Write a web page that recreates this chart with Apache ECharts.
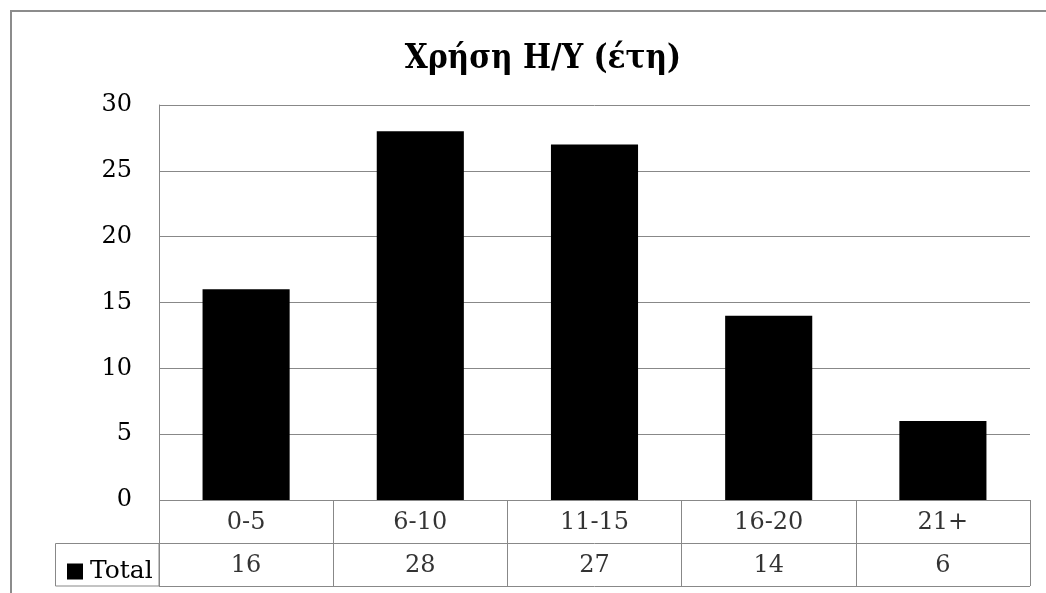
<!DOCTYPE html>
<html>
<head>
<meta charset="utf-8">
<script src="https://cdn.jsdelivr.net/npm/echarts@6/dist/echarts.min.js"></script>
<style>html,body{margin:0;padding:0;background:#fff;}#c{width:1046px;height:593px;}</style>
</head>
<body>
<div id="c"></div>
<script>
const titleText = 'Χρήση Η/Υ (έτη)';
const categories = ['0-5', '6-10', '11-15', '16-20', '21+'];
const seriesName = 'Total';
const values = [16, 28, 27, 14, 6];
const yTicks = [0, 5, 10, 15, 20, 25, 30];

const FONT = 'DejaVu Serif';
const FS = 24;
const GRID_COLOR = '#888888';
const chart = echarts.init(document.getElementById('c'), null, {renderer: 'canvas'});

const catRow = categories.map((c, i) => [i, 1.5, c]);
const valRow = values.map((v, i) => [i, 0.5, String(v)]);

chart.setOption({
  animation: false,
  backgroundColor: '#fff',
  title: {
    text: titleText,
    left: 538, top: 38, textAlign: 'center',
    textStyle: {fontFamily: 'DejaVu Serif Condensed, DejaVu Serif', fontWeight: 'bold', fontSize: 33, color: '#000'}
  },
  legend: {
    data: [seriesName],
    left: 62, top: 554, icon: 'rect', itemWidth: 16, itemHeight: 16, itemGap: 6,
    textStyle: {fontFamily: FONT, fontSize: 25, color: '#000', padding: [0,0,0,2]},
    selectedMode: false
  },
  grid: [
    {left: 159, top: 105, width: 871, height: 395},
    {left: 159, top: 500, width: 871, height: 86}
  ],
  xAxis: [
    {type: 'category', gridIndex: 0, data: categories, axisLine: {show: false}, axisTick: {show: false}, axisLabel: {show: false}},
    {type: 'category', gridIndex: 1, data: categories, axisLine: {show: false}, axisTick: {show: false}, axisLabel: {show: false},
     splitLine: {show: true, interval: 0, lineStyle: {color: GRID_COLOR, width: 1}}}
  ],
  yAxis: [
    {type: 'value', gridIndex: 0, min: yTicks[0], max: yTicks[yTicks.length-1], interval: 5,
     axisLine: {show: true, lineStyle: {color: GRID_COLOR}}, axisTick: {show: false},
     axisLabel: {fontFamily: FONT, fontSize: FS, color: '#000', margin: 27},
     splitLine: {show: true, lineStyle: {color: GRID_COLOR, width: 1}}},
    {type: 'value', gridIndex: 1, min: 0, max: 2, interval: 1,
     axisLine: {show: true, lineStyle: {color: GRID_COLOR}}, axisTick: {show: false}, axisLabel: {show: false},
     splitLine: {show: true, lineStyle: {color: GRID_COLOR, width: 1}}}
  ],
  series: [
    {type: 'bar', name: seriesName, xAxisIndex: 0, yAxisIndex: 0, data: values, barWidth: '50%',
     itemStyle: {color: '#000'}},
    {type: 'scatter', xAxisIndex: 1, yAxisIndex: 1, data: catRow.concat(valRow), symbolSize: 0, silent: true,
     label: {show: true, position: 'inside', formatter: p => p.data[2], fontFamily: FONT, fontSize: FS, color: '#000', offset: [0, 1]}}
  ],
  graphic: [
    {type: 'polyline', shape: {points: [[11, 600], [11, 11], [1060, 11]]}, style: {stroke: '#8c8c8c', lineWidth: 2, fill: null}},
    {type: 'rect', shape: {x: 55.5, y: 543.5, width: 103.5, height: 42.5}, style: {stroke: GRID_COLOR, lineWidth: 1, fill: null}}
  ]
});
</script>
</body>
</html>
